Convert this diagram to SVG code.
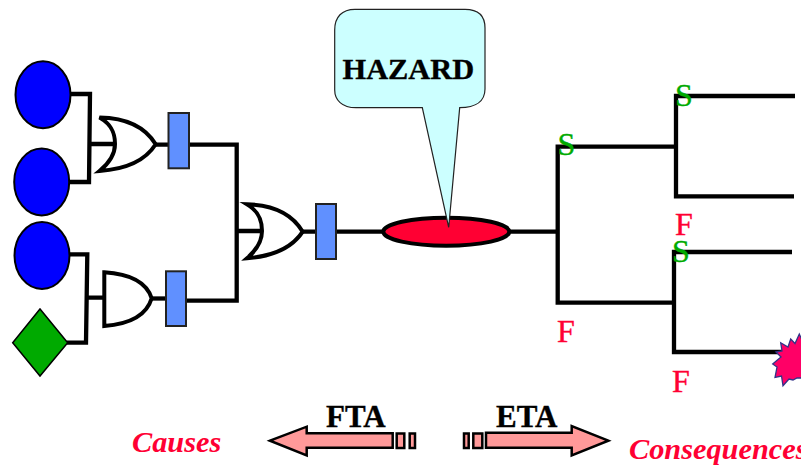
<svg xmlns="http://www.w3.org/2000/svg" width="801" height="467" viewBox="0 0 801 467">
<style>
text{font-family:"Liberation Serif","Times New Roman",serif;font-size:32px}
.b{font-weight:bold;fill:#000;font-size:31px;stroke:#000;stroke-width:.35}
.c{font-weight:bold;font-style:italic;fill:#ff0033;font-size:30.3px}
.s{fill:#00aa00;stroke:#00aa00;stroke-width:.4}
.f{fill:#ff0033;stroke:#ff0033;stroke-width:.4}
.w{fill:none;stroke:#000;stroke-width:4.3}
.g{fill:none;stroke:#000;stroke-width:4}
.ev{fill:#0000ff;stroke:#000;stroke-width:2}
.r{fill:#6090ff;stroke:#222;stroke-width:2}
.a{fill:#ff9999;stroke:#000;stroke-width:2.5}
</style>
<g id="connectors">
<path class="w" d="M70 94H90L89 182H69M90 144H115"/>
<path class="w" d="M70 254.3H87.3L86 342.7H67M87 297.7H104"/>
<path class="w" d="M155 144.7H169M189 144.7H236.7V300.7H186M236.7 231H260"/>
<path class="w" d="M151 298.5H166"/>
<path class="w" d="M302 231.7H316M336 231.7H384M509 231.7H557.7"/>
<path class="w" d="M795 96H676V196.3H794M676 146.7H557.7V302.7H674M792 252H674V352H782"/>
</g>
<g id="event-1"><ellipse class="ev" cx="43" cy="94.7" rx="27.5" ry="33.5"/></g>
<g id="event-2"><ellipse class="ev" cx="41.7" cy="182" rx="27.5" ry="33.5"/></g>
<g id="event-3"><ellipse class="ev" cx="42" cy="255.5" rx="27.5" ry="33.5"/></g>
<g id="diamond"><polygon points="12.7,342.7 40,309 67.7,342.7 40,376" fill="#00aa00" stroke="#000" stroke-width="1.5"/></g>
<g id="or-gate-1"><path class="g" d="M99.5 117.5C130 118 147 130 155.7 144.3C147 158 130 169 99.5 171C113 160 115 150 115 144C115 135 113 125 99.5 117.5Z"/></g>
<g id="and-gate"><path class="g" d="M104.3 272.3V326C132 324 147 314 151.7 298.3C147 284 132 274 104.3 272.3Z"/></g>
<g id="or-gate-2"><path class="g" d="M247 204.3C277 205 294 217 302.7 231.7C294 245 277 256 247 258.3C260 247 262 237 262 231C262 222 260 212 247 204.3Z"/></g>
<g id="box-1"><rect class="r" x="168.5" y="113" width="20.5" height="55.3"/></g>
<g id="box-2"><rect class="r" x="166" y="271.3" width="20" height="54.7"/></g>
<g id="box-3"><rect class="r" x="316" y="204" width="20" height="55"/></g>
<g id="hazard">
<ellipse cx="446.3" cy="231.7" rx="63" ry="14" fill="#ff0033" stroke="#000" stroke-width="4"/>
<path d="M355 9.3H465C478 9.3 485 16 485 28V89C485 101 476 107.7 459.7 107.7L448.7 227.3L422.3 107.7H356C342 107.7 334.7 100 334.7 90V30C334.7 17 342 9.3 355 9.3Z" fill="#ccffff" stroke="#222" stroke-width="1.2"/>
<text class="b" x="342.5" y="79.3" style="font-size:30.4px">HAZARD</text>
</g>
<g id="star"><polygon points="780.7,342.7 788,347 790.7,339 795,343.5 799.3,334 802,340 802,378 797,378 793,380 789,379 783,385.7 781.5,376 775,377.5 777,367 772.7,364 781,357 776,352 782,351" fill="#ff0066" stroke="#333388" stroke-width="1.3"/></g>
<g id="outcome-labels">
<text class="s" x="557.5" y="155">S</text>
<text class="s" x="675" y="106">S</text>
<text class="s" x="672" y="262">S</text>
<text class="f" x="675" y="235">F</text>
<text class="f" x="557" y="341.7">F</text>
<text class="f" x="672" y="391.7">F</text>
</g>
<g id="fta">
<path class="a" d="M270 440.7L306.7 426.7V433.3H392.7V447.7H306.7V455.3Z"/>
<rect class="a" x="396.7" y="433.5" width="7.6" height="14.5"/>
<rect class="a" x="409.7" y="433.5" width="5.3" height="14.5"/>
<text class="b" x="326" y="426.7">FTA</text>
<text class="c" x="132" y="451.7">Causes</text>
</g>
<g id="eta">
<path class="a" d="M608.3 440.7L571.7 426V432.7H486V447.7H571.7V455.3Z"/>
<rect class="a" x="473.3" y="433.5" width="9" height="14.5"/>
<rect class="a" x="464" y="433.5" width="4.7" height="14.5"/>
<text class="b" x="496" y="426.7">ETA</text>
<text class="c" x="629" y="459.3">Consequences</text>
</g>
</svg>
